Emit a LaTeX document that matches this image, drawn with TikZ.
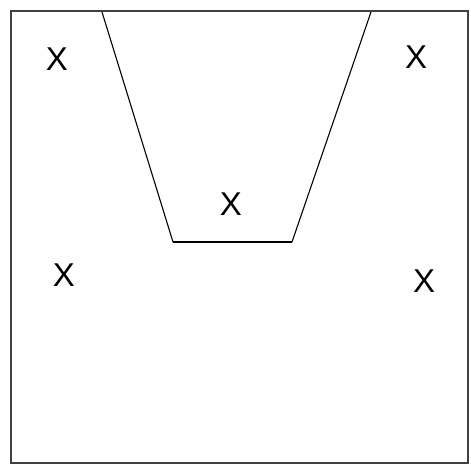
\documentclass[tikz,border=0pt]{standalone}
\usepackage{fontspec}
\setmainfont{Liberation Sans}
\begin{document}
\begin{tikzpicture}[x=1pt,y=1pt,
  xlabel/.style={font=\fontsize{33}{33}\selectfont, inner sep=0pt},
  frame/.style={draw=black!75, line width=2.6pt},
  side/.style={draw=black, line width=1.1pt}]
\useasboundingbox (0,0) rectangle (471,465);
\fill[white] (0,0) rectangle (471,465);
\draw[frame] (11,2) rectangle (468,454);
\coordinate (tl) at (102,453);
\coordinate (tr) at (371,453);
\coordinate (bl) at (173,223);
\coordinate (br) at (292,223);
\draw[side] (tl) -- (bl);
\draw[side] (tr) -- (br);
\draw[side, line width=2pt] (bl) -- (br);
\node[xlabel] (x1) at (57,405.5) {X};
\node[xlabel] (x2) at (416,407.5) {X};
\node[xlabel] (x3) at (231,261) {X};
\node[xlabel] (x4) at (64,190) {X};
\node[xlabel] (x5) at (424,183.5) {X};
\end{tikzpicture}
\end{document}
